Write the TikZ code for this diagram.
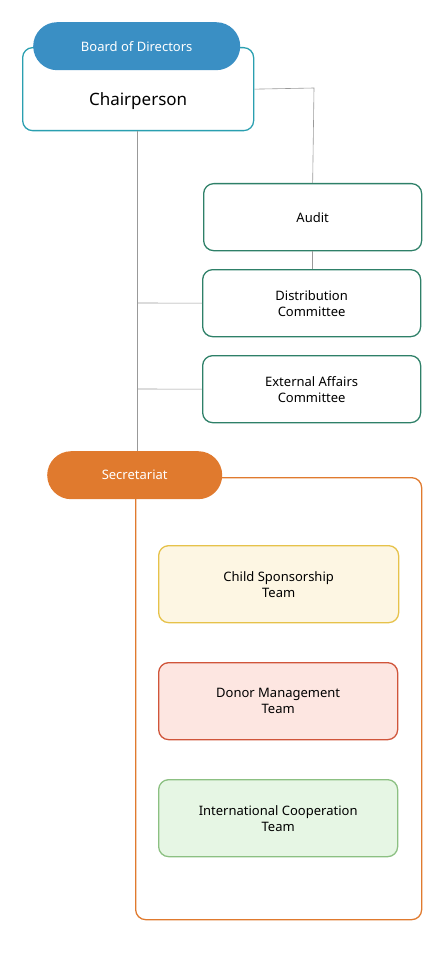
\documentclass[tikz,border=0pt]{standalone}
\usepackage{fontspec}
\setmainfont{Noto Sans}
\begin{document}
\begin{tikzpicture}[x=1pt,y=-1pt,
  line/.style={draw=gray!80,line width=0.6pt},
  box/.style={draw=#1,line width=1.3pt,rounded corners=10pt},
  lbl/.style={font=\fontsize{13}{16}\selectfont,align=center,text=black}]
\useasboundingbox (0,0) rectangle (442,960);
\definecolor{teal1}{HTML}{2A9FB0}
\definecolor{blue1}{HTML}{3A8FC4}
\definecolor{grn}{HTML}{2E8068}
\definecolor{org}{HTML}{E07A2E}
\definecolor{yb}{HTML}{E6C24A}\definecolor{yf}{HTML}{FDF6E3}
\definecolor{rb}{HTML}{D0553A}\definecolor{rf}{HTML}{FDE6E1}
\definecolor{gb}{HTML}{8CC082}\definecolor{gf}{HTML}{E6F6E4}
% connectors
\coordinate (c1) at (314,88);
\coordinate (j1) at (137,303);
\coordinate (j2) at (137,389);
% boxes
\node[box=teal1,fill=white,minimum width=231pt,minimum height=83pt,anchor=north west,inner sep=0] (chair) at (22,47) {};
\node[lbl,font=\fontsize{17}{20}\selectfont,yshift=-12pt] (chairt) at (chair) {Chairperson};
\node[box=grn,minimum width=218pt,minimum height=67pt,anchor=north west,lbl] (audit) at (203,183) {Audit};
\node[box=grn,minimum width=218pt,minimum height=67pt,anchor=north west,lbl] (dist) at (202,269) {Distribution\\ Committee};
\node[box=grn,minimum width=218pt,minimum height=67pt,anchor=north west,lbl] (ext) at (202,355) {External Affairs\\ Committee};
\node[box=org,minimum width=286pt,minimum height=442pt,anchor=north west] (cont) at (135,477) {};
\node[anchor=north west,inner sep=0,minimum width=175pt,minimum height=48pt,fill=org,rounded corners=24pt,text=white,font=\bfseries\fontsize{13}{16}\selectfont] (sec) at (47,451) {Secretariat};
\node[anchor=north west,inner sep=0,minimum width=207pt,minimum height=48pt,fill=blue1,rounded corners=24pt,text=white,font=\bfseries\fontsize{13}{16}\selectfont] (bod) at (33,22) {Board of Directors};
\node[box=yb,fill=yf,minimum width=240pt,minimum height=77pt,anchor=north west,lbl] (child) at (158,545) {Child Sponsorship\\ Team};
\node[box=rb,fill=rf,minimum width=239pt,minimum height=77pt,anchor=north west,lbl] (donor) at (158,662) {Donor Management\\ Team};
\node[box=gb,fill=gf,minimum width=239pt,minimum height=77pt,anchor=north west,lbl] (intl) at (158,779) {International Cooperation\\ Team};
% lines
\draw[line] (chair.east) -- (c1) -- (audit.north);
\draw[line] (audit.south) -- (audit.south |- dist.north);
\draw[line] (chair.south -| j1) -- (sec.north -| j1);
\draw[line] (j1) -- (dist.west);
\draw[line] (j2) -- (ext.west);
\end{tikzpicture}
\end{document}
